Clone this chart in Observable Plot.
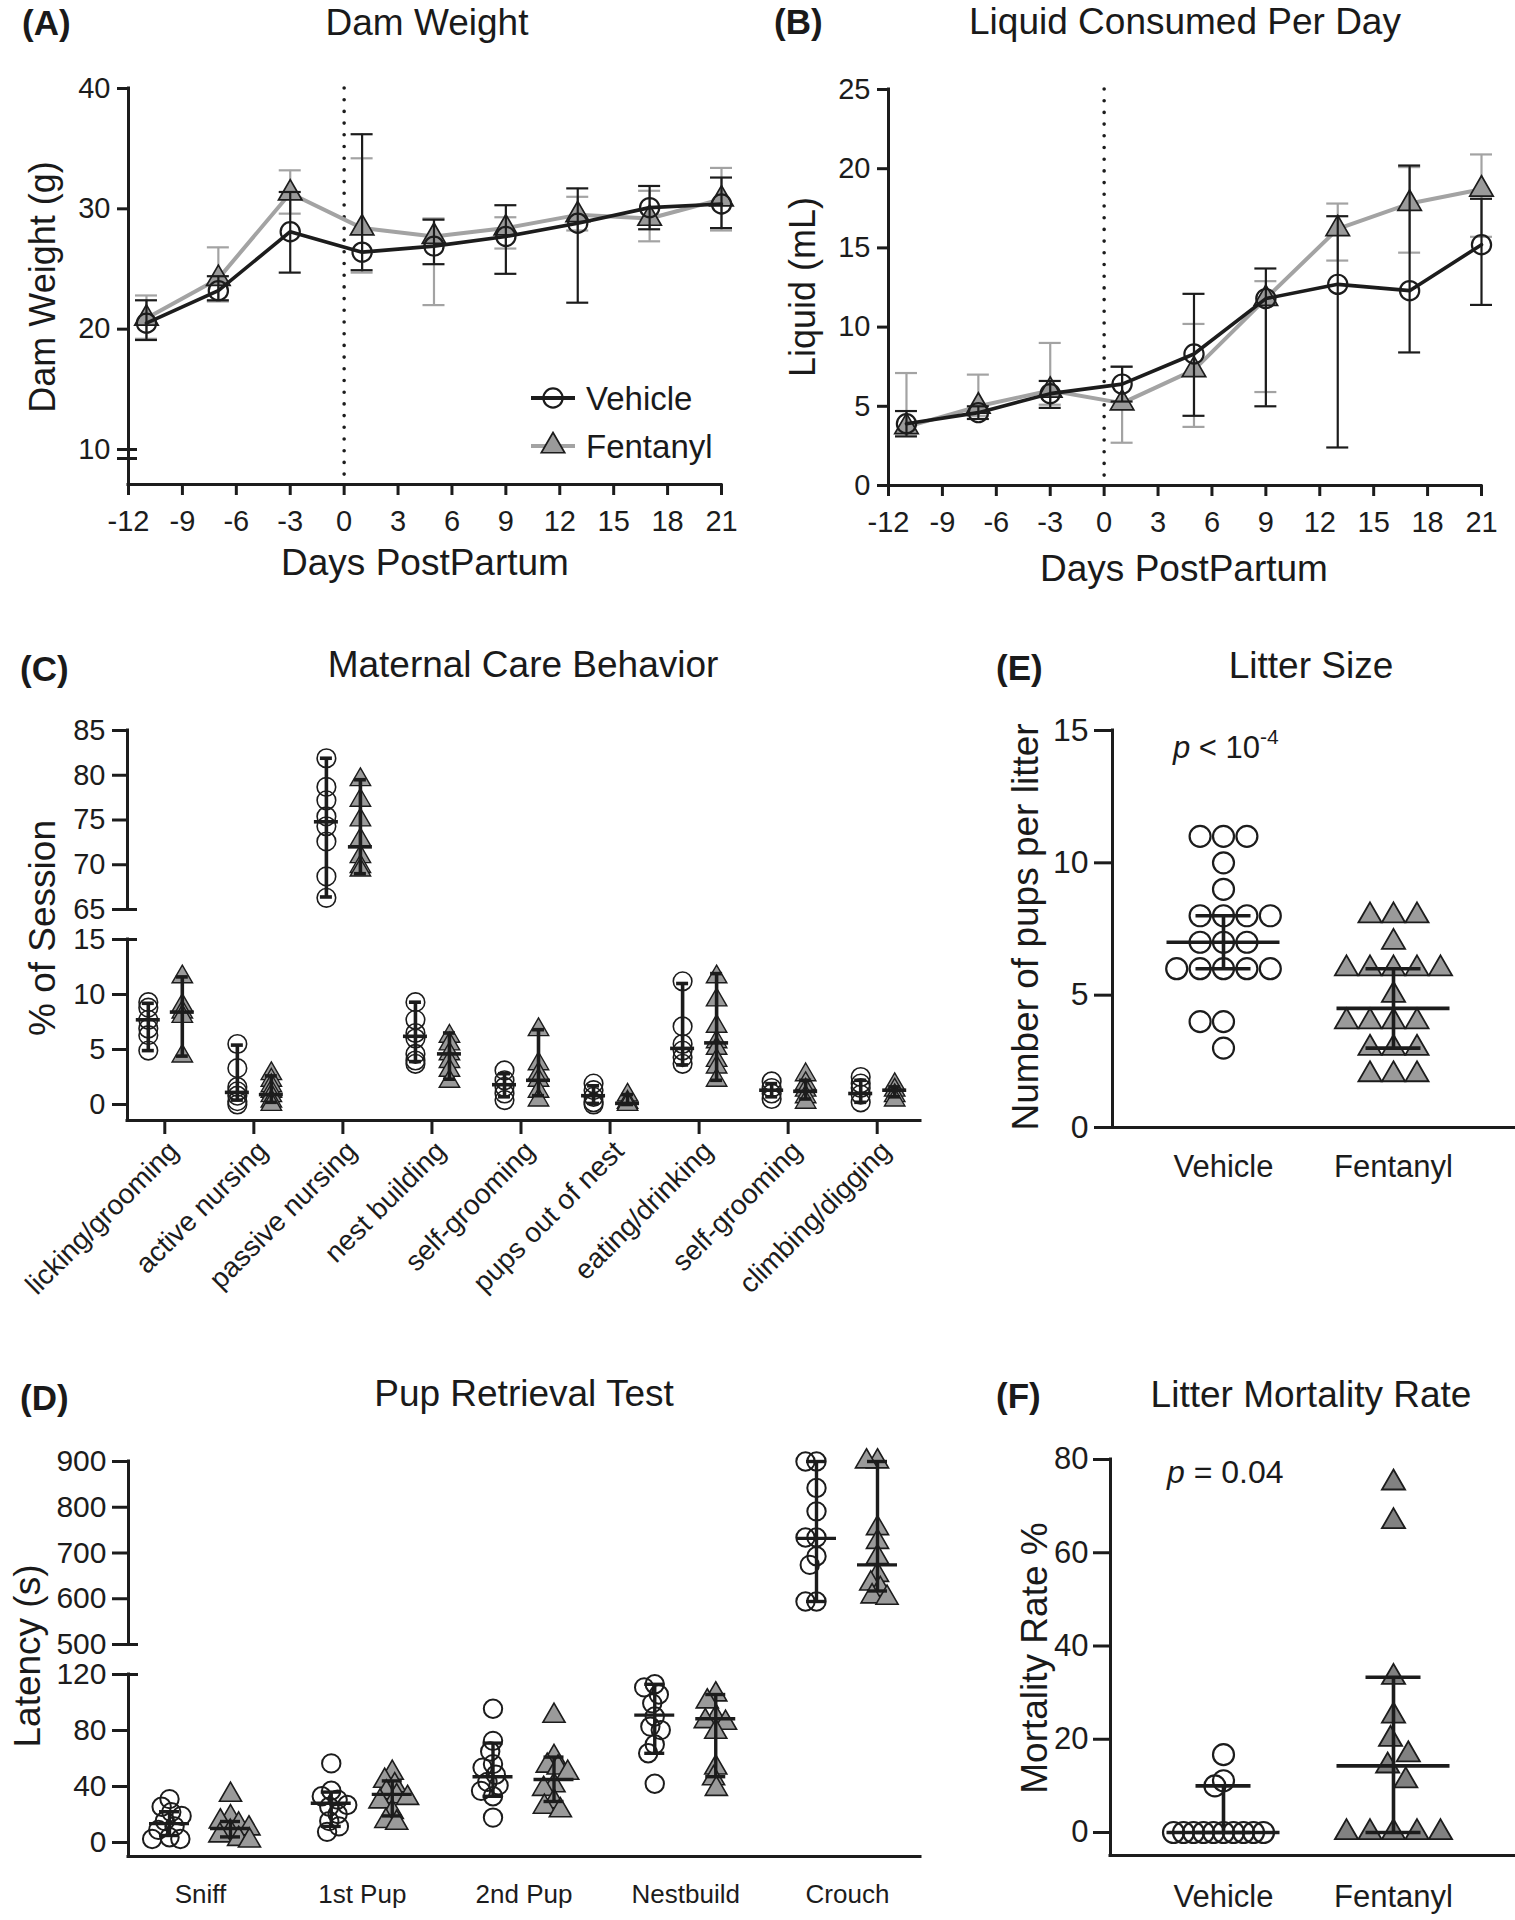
<!DOCTYPE html>
<html><head><meta charset="utf-8">
<script src="https://cdn.jsdelivr.net/npm/d3@7"></script>
<script src="https://cdn.jsdelivr.net/npm/@observablehq/plot@0.6"></script>
<style>
html,body{margin:0;padding:0;background:#fff;}
#root{position:relative;width:1515px;height:1920px;overflow:hidden;font-family:"Liberation Sans",Arial,Helvetica,sans-serif;color:#1a1a1a;background:#fff;}
.abs{position:absolute;white-space:nowrap;line-height:1;}
</style></head>
<body><div id="root"></div>
<script>
// ======================= DATA =======================
// (A) Dam weight, (B) liquid consumed
const days = [-11, -7, -3, 1, 5, 9, 13, 17, 21];
const dayTicks = [-12, -9, -6, -3, 0, 3, 6, 9, 12, 15, 18, 21];
const weightTicks = [10, 20, 30, 40];
const weightBreak = [10];
const weightVehicle      = [20.5, 23.2, 28.1, 26.4, 26.9, 27.7, 28.8, 30.1, 30.4];
const weightVehicleLow   = [19.1, 22.4, 24.7, 24.9, 25.4, 24.6, 22.2, 28.3, 28.4];
const weightVehicleHigh  = [22.4, 24.4, 31.4, 36.2, 29.1, 30.3, 31.7, 31.9, 32.6];
const weightFentanyl     = [20.9, 24.2, 31.3, 28.4, 27.7, 28.4, 29.5, 29.2, 30.8];
const weightFentanylLow  = [19.2, 22.3, 29.6, 24.7, 22.0, 26.7, 28.2, 27.3, 28.2];
const weightFentanylHigh = [22.8, 26.8, 33.2, 34.2, 29.2, 29.3, 31.0, 31.5, 33.4];

const liquidTicks = [0, 5, 10, 15, 20, 25];
const liquidVehicle      = [3.9, 4.6, 5.8, 6.4, 8.3, 11.8, 12.7, 12.3, 15.2];
const liquidVehicleLow   = [3.1, 4.2, 4.9, 5.3, 4.4, 5.0, 2.4, 8.4, 11.4];
const liquidVehicleHigh  = [4.7, 5.0, 6.6, 7.5, 12.1, 13.7, 17.0, 20.2, 18.1];
const liquidFentanyl     = [3.7, 5.0, 6.0, 5.2, 7.3, 11.8, 16.2, 17.8, 18.7];
const liquidFentanylLow  = [3.3, 4.4, 5.1, 2.7, 3.7, 5.9, 14.2, 14.7, 15.7];
const liquidFentanylHigh = [7.1, 7.0, 9.0, 7.5, 10.2, 12.9, 17.8, 20.1, 20.9];

const groups = ["Vehicle", "Fentanyl"];

// (C) Maternal care behavior (% of session)
const careBehaviors = ["licking/grooming", "active nursing", "passive nursing", "nest building",
  "self-grooming", "pups out of nest", "eating/drinking", "self-grooming", "climbing/digging"];
const careTicksUpper = [65, 70, 75, 80, 85];
const careTicksLower = [0, 5, 10, 15];
const careVehiclePoints = [
  [9.3, 8.8, 7.7, 6.9, 6.3, 4.9],
  [5.5, 3.3, 1.6, 1.2, 0.8, 0.3, 0],
  [81.9, 78.7, 77.2, 75.4, 74.3, 72.6, 68.7, 66.3],
  [9.3, 7.7, 6.5, 6.0, 4.6, 4.0, 3.7],
  [3.1, 2.2, 1.6, 1.0, 0.4],
  [1.9, 1.3, 0.7, 0.2, 0],
  [11.2, 7.1, 5.5, 4.9, 4.3, 3.7],
  [2.1, 1.5, 1.0, 0.5],
  [2.5, 1.9, 1.5, 0.9, 0.2]
];
const careVehicleMedian = [7.7, 1.1, 74.8, 6.2, 1.8, 0.8, 5.1, 1.3, 1.0];
const careVehicleLow    = [4.9, 0.4, 66.4, 3.9, 0.7, 0.1, 3.6, 0.7, 0.2];
const careVehicleHigh   = [9.2, 5.4, 81.9, 9.3, 2.8, 1.7, 11.0, 1.9, 2.2];
const careFentanylPoints = [
  [11.6, 9.0, 8.4, 8.0, 4.4],
  [2.8, 2.2, 1.7, 1.2, 0.8, 0.3, 0],
  [79.5, 77.2, 75.0, 72.8, 70.9, 69.8, 69.4],
  [6.2, 5.5, 4.6, 3.9, 3.1, 2.1],
  [6.8, 3.7, 2.8, 2.2, 1.2, 0.4],
  [0.85, 0.2, 0],
  [11.6, 9.5, 7.1, 5.7, 5.1, 4.0, 3.4, 2.2],
  [2.7, 1.9, 1.3, 0.7, 0.2],
  [1.8, 1.3, 0.8, 0.4]
];
const careFentanylMedian = [8.4, 0.9, 72.0, 4.6, 2.2, 0.1, 5.6, 1.2, 1.3];
const careFentanylLow    = [4.4, 0.2, 69.0, 2.3, 0.8, 0.0, 2.2, 0.5, 0.7];
const careFentanylHigh   = [11.6, 2.6, 79.5, 6.5, 6.8, 0.9, 11.9, 2.2, 1.6];

// (D) Pup retrieval test (latency, s)
const retrievalPhases = ["Sniff", "1st Pup", "2nd Pup", "Nestbuild", "Crouch"];
const latencyTicksUpper = [500, 600, 700, 800, 900];
const latencyTicksLower = [0, 40, 80, 120];
const latencyVehiclePoints = [
  [31, 25.5, 21.7, 19, 15.3, 11.5, 9, 3.8, 2.5, 2.5],
  [56.5, 37, 33, 30.6, 26.8, 25.5, 20.4, 15.3, 11.5, 7.6],
  [95.5, 72.6, 65, 56, 53.5, 48.4, 43.3, 40.8, 36.9, 33, 17.8],
  [113, 110.8, 105.7, 99.4, 90, 82.8, 80.3, 70, 63.7, 42],
  [900, 900, 842, 791, 734, 734, 693, 674, 594, 594]
];
const latencyVehicleMedian = [13.5, 28, 47, 91, 732];
const latencyVehicleLow    = [5, 11.5, 33, 63.7, 594];
const latencyVehicleHigh   = [22, 36, 71, 113, 900];
const latencyFentanylPoints = [
  [34, 18, 15, 12.7, 10, 7.6, 5, 2.5, 1.3],
  [49.7, 44, 40.8, 35.7, 33, 31.8, 29.3, 21.7, 15.3, 14],
  [90.4, 61, 54.8, 53.5, 49.7, 40.8, 38.2, 29.3, 25.5, 22.9],
  [121, 105.7, 100.7, 89, 86.6, 85.4, 79, 53.5, 45.8, 38.2],
  [900, 900, 754, 724, 691, 652, 633, 621, 605, 602]
];
const latencyFentanylMedian = [10, 34.4, 45, 88.4, 674];
const latencyFentanylLow    = [4, 19, 29.3, 47, 617];
const latencyFentanylHigh   = [15, 44, 61, 105.7, 900];

// (E) Litter size
const litterTicks = [0, 5, 10, 15];
const litterVehicle  = [11, 11, 11, 10, 9, 8, 8, 8, 8, 7, 7, 7, 6, 6, 6, 6, 6, 4, 4, 3];
const litterFentanyl = [8, 8, 8, 7, 6, 6, 6, 6, 6, 5, 4, 4, 4, 4, 3, 3, 3, 2, 2, 2];
const litterMedian = [7, 4.5];
const litterLow    = [6, 3];
const litterHigh   = [8, 6];

// (F) Litter mortality rate
const mortalityTicks = [0, 20, 40, 60, 80];
const mortalityVehicle  = [16.7, 11.1, 10, 0, 0, 0, 0, 0, 0, 0, 0, 0, 0];
const mortalityFentanyl = [75, 66.7, 33.3, 25, 20, 16.7, 14.3, 11.1, 0, 0, 0, 0, 0];
const mortalityMedian = [0, 14.3];
const mortalityLow    = [0, 0];
const mortalityHigh   = [10, 33.3];

// ======================= STYLE =======================
const INK = "#1c1c1c";
const GRAY_LINE = "#a3a3a3";
const TRI = "#9a9a9a";
const TRI_DARK = "#818181";
const FONT = '"Liberation Sans", Arial, Helvetica, sans-serif';
const root = document.getElementById("root");

// ======================= HELPERS =======================
function panel(L, xDomain, yDomain, marks) {
  const svg = Plot.plot({
    width: L.width, height: L.height,
    marginLeft: L.x0 - L.left, marginRight: L.left + L.width - L.x1,
    marginTop: L.y0 - L.top, marginBottom: L.top + L.height - L.y1,
    x: {domain: xDomain, axis: null},
    y: {domain: yDomain, axis: null},
    style: {background: "transparent", fontFamily: FONT, fontSize: "28px", color: INK, overflow: "visible"},
    marks
  });
  svg.style.position = "absolute";
  svg.style.left = L.left + "px";
  svg.style.top = L.top + "px";
  root.appendChild(svg);
}
function addText(html, left, baseline, size, opts = {}) {
  const d = document.createElement("div");
  d.className = "abs";
  d.innerHTML = html;
  d.style.fontSize = size + "px";
  d.style.top = (baseline - 0.8465 * size) + "px";
  d.style.left = left + "px";
  if (opts.bold) d.style.fontWeight = "bold";
  if (opts.center) d.style.transform = "translateX(-50%)";
  root.appendChild(d);
}
function addYTitle(text, baselineX, centerY, size) {
  const d = document.createElement("div");
  d.className = "abs";
  d.textContent = text;
  d.style.fontSize = size + "px";
  d.style.left = (baselineX - 0.3465 * size) + "px";
  d.style.top = centerY + "px";
  d.style.transform = "translate(-50%, -50%) rotate(-90deg)";
  root.appendChild(d);
}
function yAxis(xAt, yTop, yBottom, ticks, tickLen, gap, fontSize) {
  return [
    Plot.ruleX([xAt], {x: d => d, y1: yTop, y2: yBottom, stroke: INK, strokeWidth: 3, strokeLinecap: "square"}),
    Plot.ruleY(ticks, {y: d => d, x1: xAt, x2: xAt, insetLeft: -tickLen, stroke: INK, strokeWidth: 3}),
    Plot.text(ticks, {y: d => d, x: xAt, text: d => String(d), textAnchor: "end", dx: -gap, fontSize, fill: INK})
  ];
}
function breakMark(values, xAt, right, tickLen) {
  return Plot.ruleY(values, {y: d => d, x1: xAt, x2: xAt, insetLeft: -tickLen, insetRight: -right, stroke: INK, strokeWidth: 3});
}
function xBaseline(yAt) {
  return Plot.ruleY([yAt], {y: d => d, stroke: INK, strokeWidth: 3, strokeLinecap: "square"});
}
function errorMarks(rows, color, sw, capHalf) {
  return [
    Plot.ruleX(rows, {x: "day", y1: "lo", y2: "hi", stroke: color, strokeWidth: sw}),
    Plot.ruleY(rows, {x1: "day", x2: "day", y: "lo", insetLeft: -capHalf, insetRight: -capHalf, stroke: color, strokeWidth: sw}),
    Plot.ruleY(rows, {x1: "day", x2: "day", y: "hi", insetLeft: -capHalf, insetRight: -capHalf, stroke: color, strokeWidth: sw})
  ];
}
function statMarks(stats, medHalf, capHalf, sw) {
  return [
    Plot.ruleX(stats, {x: "pos", y1: "lo", y2: "hi", stroke: INK, strokeWidth: sw}),
    Plot.ruleY(stats, {x1: "pos", x2: "pos", y: "lo", insetLeft: -capHalf, insetRight: -capHalf, stroke: INK, strokeWidth: sw}),
    Plot.ruleY(stats, {x1: "pos", x2: "pos", y: "hi", insetLeft: -capHalf, insetRight: -capHalf, stroke: INK, strokeWidth: sw}),
    Plot.ruleY(stats, {x1: "pos", x2: "pos", y: "med", insetLeft: -medHalf, insetRight: -medHalf, stroke: INK, strokeWidth: sw})
  ];
}
function dxFactory(L, xDomain) {
  const sx = Plot.scale({x: {domain: xDomain, range: [L.x0 - L.left, L.x1 - L.left]}});
  const mid = (L.x0 + L.x1) / 2 - L.left;
  return pos => sx.apply(pos) - mid;
}
function seriesRows(v, lo, hi) {
  return days.map((d, i) => ({day: d, v: v[i], lo: lo[i], hi: hi[i]}));
}
function timeSeriesPanel(L, yDomain, yTicks, rowsV, rowsF, extra) {
  const xDomain = [dayTicks[0], dayTicks[dayTicks.length - 1]];
  panel(L, xDomain, yDomain, [
    Plot.ruleX([0], {x: d => d, y1: yDomain[1], y2: yDomain[0], stroke: INK, strokeWidth: 3.6, strokeDasharray: "0 11.7", strokeLinecap: "round"}),
    ...errorMarks(rowsF, GRAY_LINE, 2.2, 11),
    Plot.line(rowsF, {x: "day", y: "v", stroke: GRAY_LINE, strokeWidth: 4}),
    Plot.dot(rowsF, {x: "day", y: "v", symbol: "triangle", r: 8.7, fill: TRI, stroke: INK, strokeWidth: 1.7}),
    ...errorMarks(rowsV, INK, 2.2, 11),
    Plot.line(rowsV, {x: "day", y: "v", stroke: INK, strokeWidth: 3.6}),
    Plot.dot(rowsV, {x: "day", y: "v", r: 9.6, fill: "none", stroke: INK, strokeWidth: 2.2}),
    ...yAxis(xDomain[0], yDomain[1], yDomain[0], yTicks, 11, 18, 29),
    xBaseline(yDomain[0]),
    Plot.ruleX(dayTicks, {x: d => d, y1: yDomain[0], y2: yDomain[0], insetBottom: -11, stroke: INK, strokeWidth: 3}),
    Plot.text(dayTicks, {x: d => d, y: yDomain[0], text: d => String(d), dy: 37, fontSize: 29, fill: INK}),
    ...extra
  ]);
}

// ======================= PANEL A =======================
{
  const L = {left: 0, top: 40, width: 745, height: 520, x0: 128, x1: 721, y0: 88, y1: 484};
  const tenPx = 449; // pixel row of the "10" tick
  const yMin = 10 - (L.y1 - tenPx) * (30 / (tenPx - L.y0));
  const xMin = dayTicks[0];
  timeSeriesPanel(L, [yMin, 40], weightTicks,
    seriesRows(weightVehicle, weightVehicleLow, weightVehicleHigh),
    seriesRows(weightFentanyl, weightFentanylLow, weightFentanylHigh),
    [breakMark(weightBreak, xMin, 9, 11),
     Plot.ruleY(weightBreak, {y: d => d, x1: xMin, x2: xMin, insetLeft: -11, insetRight: -9, dy: 9, stroke: INK, strokeWidth: 3})]);
}
// ======================= PANEL B =======================
{
  const L = {left: 760, top: 40, width: 755, height: 520, x0: 888, x1: 1481, y0: 89, y1: 485};
  timeSeriesPanel(L, [0, 25], liquidTicks,
    seriesRows(liquidVehicle, liquidVehicleLow, liquidVehicleHigh),
    seriesRows(liquidFentanyl, liquidFentanylLow, liquidFentanylHigh), []);
}

// ======================= PANEL C =======================
{
  const CX = {firstCenter: 164.3, step: 89.05, offV: -16.5, offF: 17.5};
  const Lu = {left: 0, top: 700, width: 940, height: 215, x0: 127, x1: 920, y0: 730, y1: 909};
  const Ll = {left: 0, top: 915, width: 940, height: 420, x0: 127, x1: 920, y0: 939, y1: 1120};
  const xDomain = [(Lu.x0 - CX.firstCenter) / CX.step, (Lu.x1 - CX.firstCenter) / CX.step];
  const zeroPx = 1104;
  const yMinLower = -(Ll.y1 - zeroPx) * (15 / (zeroPx - Ll.y0));
  const oV = CX.offV / CX.step, oF = CX.offF / CX.step;
  const idx = careBehaviors.map((_, i) => i);
  const ptsV = idx.flatMap(i => careVehiclePoints[i].map(v => ({pos: i + oV, v})));
  const ptsF = idx.flatMap(i => careFentanylPoints[i].map(v => ({pos: i + oF, v})));
  const stats = idx.flatMap(i => [
    {pos: i + oV, med: careVehicleMedian[i], lo: careVehicleLow[i], hi: careVehicleHigh[i]},
    {pos: i + oF, med: careFentanylMedian[i], lo: careFentanylLow[i], hi: careFentanylHigh[i]}
  ]);
  const dataMarks = (keep, keepStat) => [
    Plot.dot(ptsV.filter(d => keep(d.v)), {x: "pos", y: "v", r: 9.3, fill: "none", stroke: INK, strokeWidth: 1.6}),
    Plot.dot(ptsF.filter(d => keep(d.v)), {x: "pos", y: "v", symbol: "triangle", r: 7.6, fill: TRI, stroke: INK, strokeWidth: 1.4}),
    ...statMarks(stats.filter(keepStat), 12, 6, 3.6)
  ];
  panel(Lu, xDomain, [65, 85], [
    ...dataMarks(v => v >= 65, s => s.lo >= 65),
    ...yAxis(xDomain[0], 85, 65, careTicksUpper, 15, 22, 29),
    breakMark([65], xDomain[0], 10, 15)
  ]);
  panel(Ll, xDomain, [yMinLower, 15], [
    ...dataMarks(v => v <= 15, s => s.hi <= 15),
    ...yAxis(xDomain[0], 15, yMinLower, careTicksLower, 15, 22, 29),
    breakMark([15], xDomain[0], 10, 15),
    xBaseline(yMinLower),
    Plot.ruleX(idx, {x: d => d, y1: yMinLower, y2: yMinLower, insetBottom: -14, stroke: INK, strokeWidth: 3}),
    Plot.text(idx, {x: d => d, y: yMinLower, text: i => careBehaviors[i], rotate: -45, textAnchor: "end", dx: 9, dy: 26, fontSize: 28, fill: INK})
  ]);
}

// ======================= PANEL D =======================
{
  const DX = {firstCenter: 200, step: 161.75, offV: -31, offF: 30};
  const Lu = {left: 0, top: 1430, width: 940, height: 220, x0: 128, x1: 920, y0: 1461, y1: 1644};
  const Ll = {left: 0, top: 1650, width: 940, height: 270, x0: 128, x1: 920, y0: 1674, y1: 1856};
  const xDomain = [(Lu.x0 - DX.firstCenter) / DX.step, (Lu.x1 - DX.firstCenter) / DX.step];
  const zeroPx = 1842;
  const yMinLower = -(Ll.y1 - zeroPx) * (120 / (zeroPx - Ll.y0));
  const oV = DX.offV / DX.step, oF = DX.offF / DX.step;
  const idx = retrievalPhases.map((_, i) => i);
  const stats = idx.flatMap(i => [
    {pos: i + oV, med: latencyVehicleMedian[i], lo: latencyVehicleLow[i], hi: latencyVehicleHigh[i]},
    {pos: i + oF, med: latencyFentanylMedian[i], lo: latencyFentanylLow[i], hi: latencyFentanylHigh[i]}
  ]);
  const dx = dxFactory(Lu, xDomain);
  const dots = keep => idx.flatMap(i => {
    const out = [];
    const v = latencyVehiclePoints[i].filter(keep);
    const f = latencyFentanylPoints[i].filter(keep);
    if (v.length) out.push(Plot.dot(v, Plot.dodgeX({anchor: "middle", padding: 1, r: 5},
      {y: d => d, r: 9.2, fill: "none", stroke: INK, strokeWidth: 2, dx: dx(i + oV)})));
    if (f.length) out.push(Plot.dot(f, Plot.dodgeX({anchor: "middle", padding: 1, r: 5},
      {y: d => d, r: 8.2, symbol: "triangle", fill: TRI, stroke: INK, strokeWidth: 1.6, dx: dx(i + oF)})));
    return out;
  });
  panel(Lu, xDomain, [500, 900], [
    ...dots(v => v >= 500),
    ...statMarks(stats.filter(s => s.lo >= 500), 20, 10, 3.4),
    ...yAxis(xDomain[0], 900, 500, latencyTicksUpper, 16, 22, 30),
    breakMark([500], xDomain[0], 10, 16)
  ]);
  panel(Ll, xDomain, [yMinLower, 120], [
    ...dots(v => v <= 120),
    ...statMarks(stats.filter(s => s.hi <= 120), 20, 10, 3.4),
    ...yAxis(xDomain[0], 120, yMinLower, latencyTicksLower, 16, 22, 30),
    breakMark([120], xDomain[0], 10, 16),
    xBaseline(yMinLower),
    Plot.text(idx, {x: d => d, y: yMinLower, text: i => retrievalPhases[i], dy: 38, fontSize: 26, fill: INK})
  ]);
}

// ======================= PANELS E & F =======================
function groupPanel(L, yDomain, yTop, ticks, vals, stats, opts) {
  const GX = {firstCenter: 1223, step: 170};
  const xDomain = [(L.x0 - GX.firstCenter) / GX.step, (L.x1 - GX.firstCenter) / GX.step];
  const dx = dxFactory(L, xDomain);
  const rows = stats.map((s, i) => ({pos: i, ...s}));
  panel(L, xDomain, yDomain, [
    Plot.dot(vals[0], Plot.dodgeX({anchor: "middle", padding: 1, r: opts.dodgeRV},
      {y: d => d, r: 10.5, fill: "none", stroke: INK, strokeWidth: 2.2, dx: dx(0)})),
    Plot.dot(vals[1], Plot.dodgeX({anchor: "middle", padding: 6.3, r: 8.6},
      {y: d => d, r: 8.6, symbol: "triangle", fill: opts.triFill, stroke: INK, strokeWidth: 1.8, dx: dx(1)})),
    ...statMarks(rows, 56.5, 27.5, 3.6),
    ...yAxis(xDomain[0], yTop, yDomain[0], ticks, opts.tickLen, opts.gap, opts.fontSize),
    xBaseline(yDomain[0]),
    Plot.text([0, 1], {x: d => d, y: yDomain[0], text: i => groups[i], dy: opts.labelDy, fontSize: 31, fill: INK})
  ]);
}
{
  const L = {left: 960, top: 690, width: 555, height: 510, x0: 1112, x1: 1515, y0: 730, y1: 1127};
  groupPanel(L, [0, 15], 15, litterTicks, [litterVehicle, litterFentanyl],
    [0, 1].map(i => ({med: litterMedian[i], lo: litterLow[i], hi: litterHigh[i]})),
    {dodgeRV: 11.2, triFill: TRI, tickLen: 18, gap: 24, fontSize: 32, labelDy: 40});
}
{
  const L = {left: 960, top: 1420, width: 555, height: 500, x0: 1110, x1: 1515, y0: 1459, y1: 1855};
  const zeroPx = 1832;
  const yMin = -(L.y1 - zeroPx) * (80 / (zeroPx - L.y0));
  groupPanel(L, [yMin, 80], 80, mortalityTicks, [mortalityVehicle, mortalityFentanyl],
    [0, 1].map(i => ({med: mortalityMedian[i], lo: mortalityLow[i], hi: mortalityHigh[i]})),
    {dodgeRV: 4.5, triFill: TRI_DARK, tickLen: 17, gap: 22, fontSize: 31, labelDy: 42});
}

// ======================= TEXT =======================
addText("(A)", 22, 35, 35, {bold: true});
addText("Dam Weight", 427, 35, 37, {center: true});
addText("(B)", 774, 34, 35, {bold: true});
addText("Liquid Consumed Per Day", 1185, 34, 37, {center: true});
addText("Days PostPartum", 425, 575, 37, {center: true});
addText("Days PostPartum", 1184, 581, 37, {center: true});
addYTitle("Dam Weight (g)", 55, 287, 36);
addYTitle("Liquid (mL)", 815, 287, 36);

addText("(C)", 20, 681, 35, {bold: true});
addText("Maternal Care Behavior", 523, 677, 37, {center: true});
addYTitle("% of Session", 55, 928, 37);

addText("(D)", 20, 1410, 35, {bold: true});
addText("Pup Retrieval Test", 524, 1406, 37, {center: true});
addYTitle("Latency (s)", 40, 1656, 37);

addText("(E)", 996, 680, 35, {bold: true});
addText("Litter Size", 1311, 678, 37, {center: true});
addYTitle("Number of pups per litter", 1038, 927, 37);
addText('<i>p</i> &lt; 10<span style="font-size:21px;position:relative;top:-14px">-4</span>', 1173, 758, 31);

addText("(F)", 996, 1408, 35, {bold: true});
addText("Litter Mortality Rate", 1311, 1407, 37, {center: true});
addYTitle("Mortality Rate %", 1047, 1658, 37);
addText("<i>p</i> = 0.04", 1167, 1483, 32);

// Legend for A
function legendRow(y, label, lineColor, symbolSvg) {
  const d = document.createElement("div");
  d.className = "abs";
  d.style.left = "529px";
  d.style.top = (y - 15) + "px";
  d.innerHTML = `<svg width="48" height="30" style="display:block"><line x1="2" y1="15" x2="46" y2="15" stroke="${lineColor}" stroke-width="4"/>${symbolSvg}</svg>`;
  root.appendChild(d);
  addText(label, 586, y + 12, 33);
}
legendRow(398, "Vehicle", INK, `<circle cx="24" cy="15" r="9.6" fill="none" stroke="${INK}" stroke-width="2.2"/>`);
legendRow(446, "Fentanyl", GRAY_LINE, `<path d="${d3.symbol(d3.symbolTriangle, Math.PI * 8.7 * 8.7)()}" transform="translate(24,15)" fill="${TRI}" stroke="${INK}" stroke-width="1.7"/>`);
</script>
</body></html>
